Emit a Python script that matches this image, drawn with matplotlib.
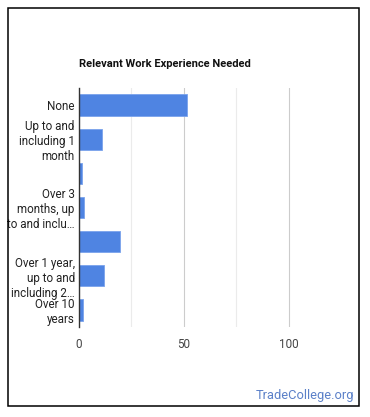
import matplotlib.pyplot as plt
from matplotlib.patches import Rectangle

plt.rcParams['font.family'] = ['Roboto', 'DejaVu Sans']

categories = ['None', 'Up to and including 1 month', 'Over 1 month, up to and including 3 months',
              'Over 3 months, up to and including 6 months', 'Over 6 months, up to and including 1 year',
              'Over 1 year, up to and including 2 years', 'Over 10 years']
tick_labels = ['None', 'Up to and\nincluding 1\nmonth', '', 'Over 3\nmonths, up\nto and inclu\u2026',
               '', 'Over 1 year,\nup to and\nincluding 2\u2026', 'Over 10\nyears']
values = [51.6, 11, 1.5, 2.5, 19.7, 12, 2]
xticks = [0, 50, 100]

W, H = 370, 417
fig = plt.figure(figsize=(W / 100, H / 100), dpi=100)

# outer frame
fig.patches.append(Rectangle((8 / W, 1 - 406 / H), 351 / W, 398 / H, transform=fig.transFigure,
                             fill=False, edgecolor='black', linewidth=1.1))

ax = fig.add_axes([79 / W, 1 - 327 / H, (341 - 79) / W, (327 - 88) / H])
y = range(len(values))
ax.barh(y, values, height=0.62, color='#4f84e2', edgecolor='#7aa3ec', linewidth=0.6, zorder=3)
ax.set_ylim(len(values) - 0.5, -0.5)
ax.set_xlim(0, 125)

ax.set_xticks(xticks)
ax.set_xticks([25, 75], minor=True)
ax.grid(axis='x', which='major', color='#cccccc', linewidth=0.8, zorder=0)
ax.grid(axis='x', which='minor', color='#ebebeb', linewidth=0.8, zorder=0)
ax.set_yticks(list(y))
ax.set_yticklabels(tick_labels, fontsize=8.4, linespacing=1.2)
ax.tick_params(axis='both', which='both', length=0, labelsize=8.4, labelcolor='#444444')
ax.tick_params(axis='x', pad=8)
ax.tick_params(axis='y', pad=3, labelcolor='#222222')

for s in ['top', 'right', 'bottom']:
    ax.spines[s].set_visible(False)
ax.spines['left'].set_color('#333333')
ax.spines['left'].set_linewidth(1)
ax.spines['left'].set_zorder(4)

fig.text(79 / W, 1 - 64 / H, 'Relevant Work Experience Needed', fontsize=8, fontweight='bold',
         color='#111111', ha='left', va='center')
fig.text(354 / W, 1 - 395 / H, 'TradeCollege.org', fontsize=9.3, color='#5b80c8', ha='right', va='center')

fig.savefig('out.png', dpi=100)
